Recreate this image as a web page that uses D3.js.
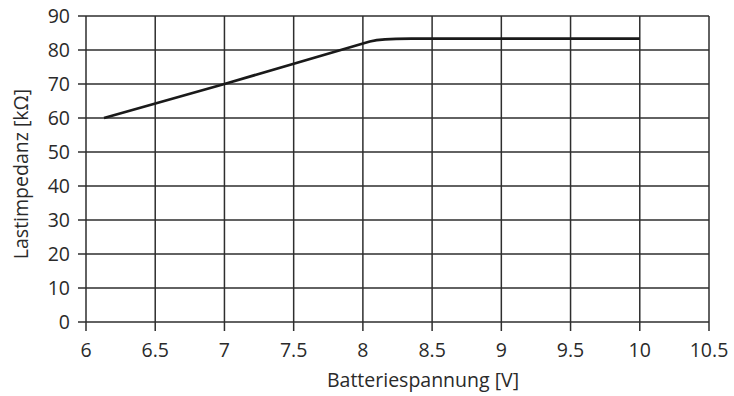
<!DOCTYPE html>
<html lang="de">
<head>
  <meta charset="UTF-8">
  <title>Lastimpedanz</title>
  <script src="https://d3js.org/d3.v7.min.js"></script>
  <style>
    body {
      margin: 0;
      background-color: #ffffff;
    }
    svg text {
      font-family: "Open Sans", "Noto Sans", sans-serif;
      fill: #2a2a2a;
    }
  </style>
</head>
<body>
  <div id="chart"></div>

  <script>
    // values
    const voltage = [6.13, 7.0, 8.05, 8.1, 8.16, 8.24, 8.35, 10.0];
    const impedance = [60, 70, 82.5, 82.9, 83.15, 83.3, 83.35, 83.35];
    const xTicks = [6, 6.5, 7, 7.5, 8, 8.5, 9, 9.5, 10, 10.5];
    const yTicks = [0, 10, 20, 30, 40, 50, 60, 70, 80, 90];
    const xTitle = 'Batteriespannung [V]';
    const yTitle = 'Lastimpedanz [kΩ]';

    const width = 734, height = 396;
    const margin = { top: 16, right: 25, bottom: 74, left: 86 };

    const svg = d3.select('#chart')
      .append('svg')
      .attr('width', width)
      .attr('height', height);

    const x = d3.scaleLinear().domain([6, 10.5]).range([margin.left, width - margin.right]);
    const y = d3.scaleLinear().domain([0, 90]).range([height - margin.bottom, margin.top]);

    const gridColor = '#2e2e2e';

    // grid
    svg.append('g')
      .selectAll('line')
      .data(xTicks)
      .enter()
      .append('line')
      .attr('x1', d => x(d)).attr('x2', d => x(d))
      .attr('y1', y(90)).attr('y2', y(0) + 9)
      .attr('stroke', gridColor)
      .attr('stroke-width', 1.5);

    svg.append('g')
      .selectAll('line')
      .data(yTicks)
      .enter()
      .append('line')
      .attr('x1', x(6) - 8).attr('x2', x(10.5))
      .attr('y1', d => y(d)).attr('y2', d => y(d))
      .attr('stroke', gridColor)
      .attr('stroke-width', 1.5);

    // tick labels
    svg.append('g')
      .selectAll('text')
      .data(xTicks)
      .enter()
      .append('text')
      .attr('x', d => x(d))
      .attr('y', y(0) + 35)
      .attr('text-anchor', 'middle')
      .style('font-size', '19.5px')
      .text(d => d);

    svg.append('g')
      .selectAll('text')
      .data(yTicks)
      .enter()
      .append('text')
      .attr('x', x(6) - 16)
      .attr('y', d => y(d))
      .attr('dy', '0.36em')
      .attr('text-anchor', 'end')
      .style('font-size', '19.5px')
      .text(d => d);

    // axis titles
    svg.append('text')
      .attr('x', 423)
      .attr('y', 387)
      .attr('text-anchor', 'middle')
      .style('font-size', '19.5px')
      .text(xTitle);

    svg.append('text')
      .attr('transform', 'translate(28,174) rotate(-90)')
      .attr('text-anchor', 'middle')
      .style('font-size', '19.5px')
      .text(yTitle);

    // curve
    const line = d3.line()
      .x((d, i) => x(voltage[i]))
      .y(d => y(d));

    svg.append('path')
      .datum(impedance)
      .attr('d', line)
      .attr('fill', 'none')
      .attr('stroke', '#1a1a1a')
      .attr('stroke-width', 2.7)
      .attr('stroke-linejoin', 'round');
  </script>
</body>
</html>
